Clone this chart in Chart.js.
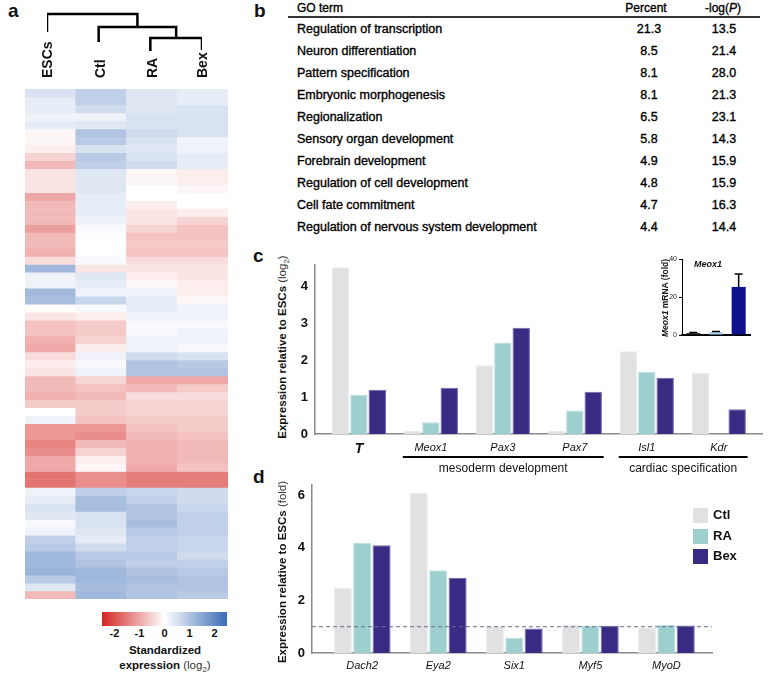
<!DOCTYPE html>
<html>
<head>
<meta charset="utf-8">
<script src="https://cdn.jsdelivr.net/npm/chart.js@4.4.1/dist/chart.umd.min.js"></script>
<style>
body { margin: 0; background: #fff; font-family: "Liberation Sans", Arial, sans-serif; color: #111; }
#page { position: relative; width: 781px; height: 673px; overflow: hidden; }
canvas { position: absolute; }
.t { position: absolute; white-space: nowrap; }
.pl { font-weight: bold; font-size: 19px; line-height: 19px; }
.rot { position: absolute; white-space: nowrap; transform-origin: 0 0; transform: rotate(-90deg); }
.leaf { font-weight: bold; font-size: 14px; line-height: 16px; height: 16px; }
.ytitle { font-weight: bold; font-size: 11.5px; line-height: 16px; height: 16px; width: 260px; text-align: center; }
.lt { font-weight: normal; color: #333; }
sub { font-size: 8px; line-height: 0; }
.go { font-size: 12.5px; line-height: 22px; color: #000; -webkit-text-stroke: 0.35px #000; }
.num { text-align: center; width: 60px; }
.cb { font-weight: bold; font-size: 11px; line-height: 12px; width: 20px; text-align: center; }
.leg { font-weight: bold; font-size: 13px; line-height: 16px; }
.sw { position: absolute; width: 15px; height: 15px; }
</style>
</head>
<body>
<div id="page">
  <div class="t pl" style="left:8px;top:1px">a</div>
  <div class="t pl" style="left:254px;top:1px">b</div>
  <div class="t pl" style="left:253px;top:246px">c</div>
  <div class="t pl" style="left:253px;top:467px">d</div>

  <canvas id="dendro" width="250" height="60" style="left:0;top:0"></canvas>
  <div class="rot leaf" style="left:39px;top:78px">ESCs</div>
  <div class="rot leaf" style="left:92px;top:78px">Ctl</div>
  <div class="rot leaf" style="left:144px;top:78px">RA</div>
  <div class="rot leaf" style="left:194px;top:78px">Bex</div>

  <canvas id="heat" width="203" height="510" style="left:25px;top:89px"></canvas>
  <div id="colorbar" style="position:absolute;left:102px;top:612px;width:125px;height:14px"></div>
  <div id="cbTicks"></div>
  <div class="t" style="left:65px;top:642px;width:200px;text-align:center;font-weight:bold;font-size:11.5px;line-height:16px">Standardized</div>
  <div class="t" style="left:65px;top:657px;width:200px;text-align:center;font-weight:bold;font-size:11.5px;line-height:16px">expression <span class="lt">(log<sub>2</sub>)</span></div>

  <div id="goTable"></div>
  <div style="position:absolute;left:288px;top:16px;width:472px;height:1.5px;background:#333"></div>

  <div class="rot ytitle" style="left:274px;top:477px">Expression relative to ESCs <span class="lt">(log<sub>2</sub>)</span></div>
  <canvas id="chartC" width="500" height="230" style="left:270px;top:250px"></canvas>
  <canvas id="inset" width="115" height="95" style="left:645px;top:250px"></canvas>
  <div class="rot" style="left:660px;top:343px;width:90px;height:10px;line-height:10px;text-align:center;font-weight:bold;font-size:8.5px"><i>Meox1</i> mRNA (fold)</div>
  <div class="t" style="left:694px;top:258px;font-weight:bold;font-style:italic;font-size:9px;line-height:12px">Meox1</div>

  <div class="rot ytitle" style="left:274px;top:702px">Expression relative to ESCs <span class="lt">(fold)</span></div>
  <canvas id="chartD" width="500" height="203" style="left:270px;top:470px"></canvas>
  <div id="legendD"></div>
</div>

<script>
// ---- panel a: heatmap (standardized log2 expression, one band per row, top to bottom)
var heatCols = ['ESCs', 'Ctl', 'RA', 'Bex'];
var heatESCs = [0.5, 0.3, 0.3, 0.2, 0.3, -0.1, -0.1, -0.2, -0.5, -0.8, -0.3, -0.3, -0.3, -1.0, -0.8, -0.8,
                -0.8, -1.1, -0.8, -0.8, -0.9, -0.4, 1.2, 0.2, 0.2, 1.2, 1.1, 0, -0.3, -0.7, -0.7, -0.9,
                -1.0, -0.4, -0.2, -0.3, -0.8, -0.8, -0.9, -0.6, 0, 0.2, -1.2, -1.2, -1.4, -1.3, -1.0, -1.0,
                -1.6, -1.6, 0.2, 0.3, 0.5, 0.4, 0.1, 0.2, 0.8, 0.9, 1.2, 1.2, 1.3, 0.9, 0.4, -0.8];
var heatCtl = [0.8, 0.8, 0.6, 0.2, 0.4, 1.0, 0.9, 0.5, 0.9, 0.8, 0.4, 0.4, 0.4, 0.3, 0.3, 0.3,
               0.2, 0.1, 0, 0, 0, 0.1, -0.3, 0.4, 0.3, 0.2, 0.7, 0.1, -0.2, -0.6, -0.6, -0.5,
               -0.2, 0.2, 0.1, 0.2, -0.5, -0.7, -0.8, -0.6, -0.6, -0.7, -1.2, -1.3, -0.8, -0.5, -0.2, -0.1,
               -1.3, -1.3, 0.8, 1.1, 1.1, 0.5, 0.5, 0.4, 0.3, 0.6, 0.9, 1.0, 1.2, 1.2, 1.1, 1.2];
var heatRA = [0.4, 0.4, 0.4, 0.5, 0.5, 0.6, 0.5, 0.4, 0.5, 0.6, -0.1, -0.1, 0, 0, -0.2, -0.3,
              -0.3, -0.5, -0.7, -0.6, -0.7, -0.4, -0.3, -0.2, -0.1, 0.2, 0.3, 0.3, 0.2, 0.1, 0.1, 0.2,
              0.2, 0.6, 1.0, 1.0, -1.0, -0.8, -0.4, -0.5, -0.5, -0.6, -0.7, -0.8, -0.9, -0.9, -0.9, -1.0,
              -1.5, -1.5, 0.7, 0.8, 1.0, 1.0, 1.1, 0.9, 0.8, 0.8, 0.9, 0.8, 1.0, 1.1, 1.0, 1.0];
var heatBex = [0.3, 0.3, 0.5, 0.5, 0.5, 0.5, 0.2, 0.2, 0.3, 0.3, -0.2, -0.2, -0.1, 0, 0, -0.2,
               -0.5, -0.7, -0.7, -0.6, -0.7, -0.4, -0.3, -0.3, -0.2, -0.2, -0.1, 0.2, 0.2, 0.1, 0.2, 0.2,
               0.1, 0.5, 0.9, 1.0, -1.0, -0.6, -0.4, -0.5, -0.5, -0.6, -0.6, -0.7, -0.8, -0.8, -0.8, -0.7,
               -1.5, -1.5, 0.6, 0.6, 0.7, 0.8, 0.8, 0.8, 0.7, 0.7, 0.6, 0.8, 0.9, 1.0, 1.0, 0.9];
var colorbarTicks = [-2, -1, 0, 1, 2];

// dendrogram: the merges [left, leftEnd, right, rightEnd, height]
var dendroMerges = [
  [2, 9, 3, 10, 22],
  [1, 18, 2.5, 22, 33],
  [0, 28, 1.75, 33, 46]
];

// ---- panel b: GO terms
var goTerms = ['Regulation of transcription', 'Neuron differentiation', 'Pattern specification',
  'Embryonic morphogenesis', 'Regionalization', 'Sensory organ development', 'Forebrain development',
  'Regulation of cell development', 'Cell fate commitment', 'Regulation of nervous system development'];
var goPercent = ['21.3', '8.5', '8.1', '8.1', '6.5', '5.8', '4.9', '4.8', '4.7', '4.4'];
var goLogP = ['13.5', '21.4', '28.0', '21.3', '23.1', '14.3', '15.9', '15.9', '16.3', '14.4'];

// ---- panel c: log2 expression relative to ESCs
var cGenes = ['T', 'Meox1', 'Pax3', 'Pax7', 'Isl1', 'Kdr'];
var cCtl = [4.53, 0.08, 1.87, 0.08, 2.25, 1.66];
var cRA = [1.07, 0.32, 2.49, 0.64, 1.69, 0];
var cBex = [1.2, 1.26, 2.89, 1.15, 1.53, 0.67];
var cGroupNames = ['mesoderm development', 'cardiac specification'];
var cGroupFrom = [1, 4];
var cGroupTo = [3, 5];

// inset: Meox1 qPCR (fold)
var insetLabels = ['Ctl', 'RA', 'Bex'];
var insetMeox1 = [1.0, 1.5, 25.3];
var insetErr = [0.3, 0.4, 6.8];

// ---- panel d: fold expression relative to ESCs
var dGenes = ['Dach2', 'Eya2', 'Six1', 'Myf5', 'MyoD'];
var dCtl = [2.48, 6.1, 1.02, 1.08, 0.97];
var dRA = [4.19, 3.15, 0.58, 1.05, 1.07];
var dBex = [4.1, 2.85, 0.93, 1.04, 1.05];
var dBaseline = 1;

var seriesNames = ['Ctl', 'RA', 'Bex'];
var seriesFill = ['#e1e1e1', '#9dcfcf', '#392b84'];
var seriesEdge = ['#ececec', '#bfe0e0', '#7469ad'];

Chart.defaults.font.family = '"Liberation Sans", Arial, sans-serif';
Chart.defaults.color = '#111';
Chart.defaults.animation = false;
Chart.defaults.responsive = false;
Chart.defaults.plugins.legend.display = false;
Chart.defaults.plugins.tooltip.enabled = false;

function heatColor(v) {
  var t = Math.min(Math.abs(v) / 2.5, 1);
  var end = v < 0 ? [212, 38, 34] : [58, 108, 182];
  var c = end.map(function (e) { return Math.round(255 + (e - 255) * t); });
  return 'rgb(' + c.join(',') + ')';
}

// ---- dendrogram
var dendroSets = dendroMerges.map(function (m) {
  return {
    data: [{x: m[0], y: m[1]}, {x: m[0], y: m[4]}, {x: m[2], y: m[4]}, {x: m[2], y: m[3]}],
    showLine: true, borderColor: '#000', borderWidth: 2.5, pointRadius: 0,
    borderJoinStyle: 'miter', borderCapStyle: 'butt'
  };
});
new Chart(document.getElementById('dendro'), {
  type: 'scatter',
  data: {datasets: dendroSets},
  options: {
    layout: {padding: {left: 47, right: 48, top: 0, bottom: 0}},
    scales: {
      x: {display: false, min: 0, max: heatCols.length - 1},
      y: {display: false, min: 0, max: 60}
    }
  }
});

// ---- heatmap
var heatSets = [];
for (var r = 0; r < heatESCs.length; r++) {
  heatSets.push({
    data: [1, 1, 1, 1],
    backgroundColor: [heatESCs[r], heatCtl[r], heatRA[r], heatBex[r]].map(heatColor),
    borderWidth: 0, stack: 'h', categoryPercentage: 1, barPercentage: 1
  });
}
new Chart(document.getElementById('heat'), {
  type: 'bar',
  data: {labels: heatCols, datasets: heatSets},
  options: {
    layout: {padding: 0},
    scales: {
      x: {display: false, stacked: true},
      y: {display: false, stacked: true, reverse: true, min: 0, max: heatESCs.length}
    }
  }
});

// colorbar
var stops = [];
for (var s = 0; s <= 10; s++) {
  var v = -2.5 + s * 0.5;
  stops.push(heatColor(v) + ' ' + (s * 10) + '%');
}
document.getElementById('colorbar').style.background = 'linear-gradient(to right,' + stops.join(',') + ')';
var cbHtml = '';
colorbarTicks.forEach(function (tk) {
  var x = 102 + (tk + 2.5) / 5 * 125;
  cbHtml += '<div class="t cb" style="left:' + (x - 10) + 'px;top:627px">' + tk + '</div>';
});
document.getElementById('cbTicks').innerHTML = cbHtml;

// ---- GO table
var tb = '<div class="t go" style="left:297px;top:-3px;font-size:12px">GO term</div>' +
  '<div class="t go num" style="left:616px;top:-3px;font-size:12px;width:60px">Percent</div>' +
  '<div class="t go num" style="left:693px;top:-3px;font-size:12px;width:60px">-log(<i>P</i>)</div>';
goTerms.forEach(function (g, i) {
  var top = 18 + 22 * i;
  tb += '<div class="t go" style="left:297px;top:' + top + 'px">' + g + '</div>';
  tb += '<div class="t go num" style="left:619px;top:' + top + 'px">' + goPercent[i] + '</div>';
  tb += '<div class="t go num" style="left:694px;top:' + top + 'px">' + goLogP[i] + '</div>';
});
document.getElementById('goTable').innerHTML = tb;

// ---- grouped bar helpers
function barSets(series, catPct, barPct) {
  return series.map(function (vals, k) {
    return {
      label: seriesNames[k],
      data: vals.map(function (v, i) { return {x: i, y: v}; }),
      backgroundColor: seriesFill[k], borderColor: seriesEdge[k], borderWidth: 1,
      borderSkipped: 'bottom', categoryPercentage: catPct, barPercentage: barPct
    };
  });
}

function geneAxis(genes, min, max, pad, fontFn, height) {
  return {
    type: 'linear', min: min, max: max, offset: false,
    afterBuildTicks: function (sc) { sc.ticks = genes.map(function (g, i) { return {value: i}; }); },
    afterFit: function (sc) { sc.height = height; },
    grid: {display: false, drawTicks: false},
    border: {display: true, color: '#8a8a8a', width: 1.5},
    ticks: {
      padding: pad, maxRotation: 0, autoSkip: false, color: '#111',
      callback: function (v) { return genes[v]; },
      font: fontFn
    }
  };
}

// ---- panel c
new Chart(document.getElementById('chartC'), {
  type: 'bar',
  data: {datasets: barSets([cCtl, cRA, cBex], 0.765, 0.95)},
  options: {
    layout: {padding: {top: 13, right: 8, left: 0, bottom: 0}},
    scales: {
      x: geneAxis(cGenes, -0.61, 5.6, 7, function (c) {
        return c.index === 0 ? {size: 14, style: 'italic', weight: 'bold'} : {size: 11, style: 'italic'};
      }, 46),
      y: {
        min: 0, max: 4.6,
        afterFit: function (sc) { sc.width = 45; },
        grid: {display: false, drawTicks: false},
        border: {display: true, color: '#8a8a8a', width: 1.5},
        ticks: {stepSize: 1, includeBounds: false, padding: 7, font: {size: 13, weight: 'bold'}, color: '#111'}
      }
    }
  },
  plugins: [{
    id: 'cGroups',
    afterDraw: function (chart) {
      var ctx = chart.ctx, xs = chart.scales.x, y0 = chart.chartArea.bottom;
      ctx.save();
      ctx.strokeStyle = '#000';
      ctx.lineWidth = 2;
      ctx.fillStyle = '#111';
      ctx.font = '12px "Liberation Sans", Arial, sans-serif';
      ctx.textAlign = 'center';
      ctx.textBaseline = 'middle';
      cGroupNames.forEach(function (name, i) {
        var a = xs.getPixelForValue(cGroupFrom[i] - 0.39);
        var b = xs.getPixelForValue(cGroupTo[i] + 0.4);
        ctx.beginPath();
        ctx.moveTo(a, y0 + 23);
        ctx.lineTo(b, y0 + 23);
        ctx.stroke();
        ctx.fillText(name, (a + b) / 2, y0 + 35);
      });
      ctx.restore();
    }
  }]
});

// ---- inset
new Chart(document.getElementById('inset'), {
  type: 'bar',
  data: {
    labels: insetLabels,
    datasets: [{
      data: insetMeox1,
      backgroundColor: ['#2a2a2a', '#a6d4ee', '#10108c'],
      borderWidth: 0, barPercentage: 0.62, categoryPercentage: 1
    }]
  },
  options: {
    layout: {padding: {top: 9, right: 10, left: 0, bottom: 0}},
    scales: {
      x: {
        afterFit: function (sc) { sc.height = 10; },
        grid: {display: false, drawTicks: false},
        border: {display: true, color: '#000', width: 2},
        ticks: {display: false}
      },
      y: {
        min: 0, max: 40,
        afterFit: function (sc) { sc.width = 37; },
        grid: {drawOnChartArea: false, tickLength: 3, color: '#000'},
        border: {display: true, color: '#000', width: 1},
        ticks: {stepSize: 20, padding: 2, font: {size: 7}, color: '#222'}
      }
    }
  },
  plugins: [{
    id: 'errBars',
    afterDatasetsDraw: function (chart) {
      var ctx = chart.ctx, ys = chart.scales.y, meta = chart.getDatasetMeta(0);
      ctx.save();
      ctx.strokeStyle = '#000';
      ctx.lineWidth = 1.5;
      meta.data.forEach(function (bar, i) {
        var top = ys.getPixelForValue(insetMeox1[i] + insetErr[i]);
        var base = ys.getPixelForValue(insetMeox1[i]);
        ctx.beginPath();
        ctx.moveTo(bar.x, base);
        ctx.lineTo(bar.x, top);
        ctx.moveTo(bar.x - 4, top);
        ctx.lineTo(bar.x + 4, top);
        ctx.stroke();
      });
      ctx.restore();
    }
  }]
});

// ---- panel d
new Chart(document.getElementById('chartD'), {
  type: 'bar',
  data: {datasets: barSets([dCtl, dRA, dBex], 0.765, 0.93)},
  options: {
    layout: {padding: {top: 10, right: 58, left: 0, bottom: 0}},
    scales: {
      x: geneAxis(dGenes, -0.66, 4.6, 6, {size: 11, style: 'italic'}, 20),
      y: {
        min: 0, max: 6.4,
        afterFit: function (sc) { sc.width = 42; },
        grid: {display: false, drawTicks: false},
        border: {display: true, color: '#8a8a8a', width: 1.5},
        ticks: {stepSize: 2, includeBounds: false, padding: 7, font: {size: 13, weight: 'bold'}, color: '#111'}
      }
    }
  },
  plugins: [{
    id: 'baseline',
    afterDatasetsDraw: function (chart) {
      var ctx = chart.ctx, a = chart.chartArea, y = chart.scales.y.getPixelForValue(dBaseline);
      ctx.save();
      ctx.strokeStyle = '#5e6f93';
      ctx.lineWidth = 1;
      ctx.setLineDash([4, 3]);
      ctx.beginPath();
      ctx.moveTo(a.left, y);
      ctx.lineTo(a.right, y);
      ctx.stroke();
      ctx.restore();
    }
  }]
});

// legend for d
var lg = '';
seriesNames.forEach(function (n, k) {
  var top = 508 + k * 20.5;
  lg += '<div class="sw" style="left:693px;top:' + top + 'px;background:' + seriesFill[k] + '"></div>';
  lg += '<div class="t leg" style="left:713px;top:' + (top - 1) + 'px">' + n + '</div>';
});
document.getElementById('legendD').innerHTML = lg;
</script>
</body>
</html>
